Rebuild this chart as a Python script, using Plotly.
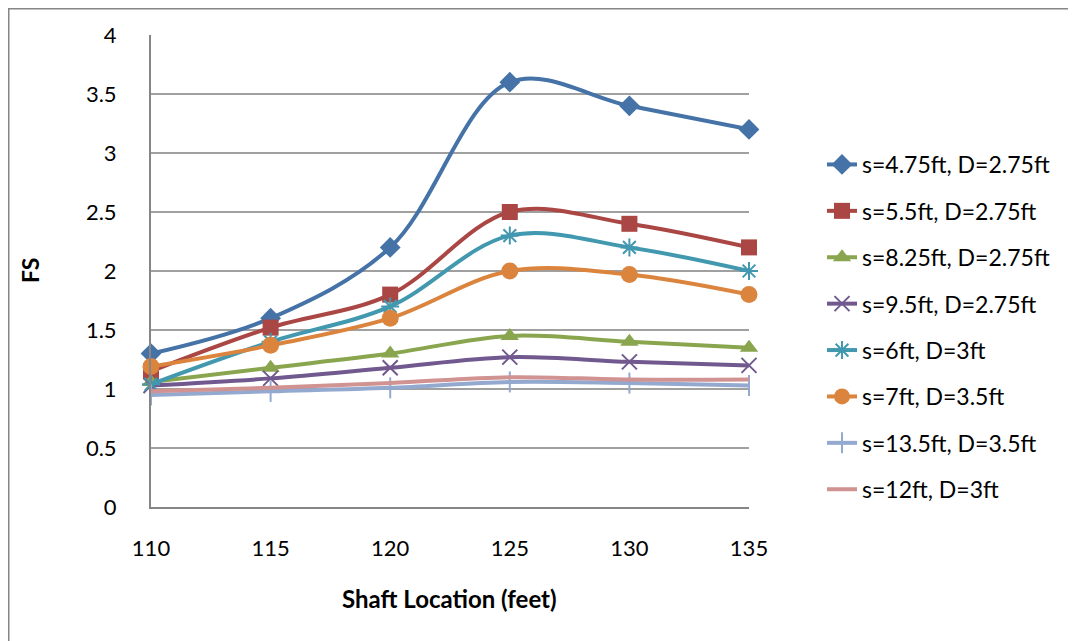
import plotly.graph_objects as go

shaft_location = [110, 115, 120, 125, 130, 135]

s475_d275 = [1.30, 1.60, 2.20, 3.60, 3.40, 3.20]
s55_d275 = [1.15, 1.52, 1.80, 2.50, 2.40, 2.20]
s825_d275 = [1.06, 1.18, 1.30, 1.45, 1.40, 1.35]
s95_d275 = [1.03, 1.09, 1.18, 1.27, 1.23, 1.20]
s6_d3 = [1.04, 1.40, 1.70, 2.30, 2.20, 2.00]
s7_d35 = [1.19, 1.37, 1.60, 2.00, 1.97, 1.80]
s135_d35 = [0.95, 0.98, 1.01, 1.06, 1.05, 1.03]
s12_d3 = [0.98, 1.01, 1.05, 1.10, 1.08, 1.08]

series_names = [
    "s=4.75ft, D=2.75ft", "s=5.5ft, D=2.75ft", "s=8.25ft, D=2.75ft",
    "s=9.5ft, D=2.75ft", "s=6ft, D=3ft", "s=7ft, D=3.5ft",
    "s=13.5ft, D=3.5ft", "s=12ft, D=3ft",
]
series_values = [s475_d275, s55_d275, s825_d275, s95_d275, s6_d3, s7_d35, s135_d35, s12_d3]
colors = ["#4572A7", "#AA4643", "#89A54E", "#71588F", "#4198AF", "#DB843D", "#93A9CF", "#D19392"]
symbols = ["diamond", "square", "triangle-up", "x-thin-open", "asterisk-open", "circle", "line-ns-open", None]
sizes = [16, 16, 16, 15, 15, 17, 15, 0]

FONT = "Lato"
# the page body has an 8px margin; work in target pixel coords and shift
OFF = 8
W, H = 1076 - OFF, 641 - OFF


def px(x):
    return x - OFF


fig = go.Figure()
for i, (name, vals) in enumerate(zip(series_names, series_values)):
    sym = symbols[i]
    marker = dict(color=colors[i], size=sizes[i])
    if sym is None:
        mode = "lines"
    else:
        mode = "lines+markers"
        marker["symbol"] = sym
        if sym.endswith("open"):
            marker["line"] = dict(color=colors[i], width=2)
    fig.add_trace(go.Scatter(
        x=shaft_location, y=vals, name=name, mode=mode,
        line=dict(color=colors[i], width=4, shape="spline", smoothing=1),
        marker=marker, cliponaxis=False, legendgroup=str(i),
    ))

# plot area geometry (target pixels)
PL, PR, PT, PB = 151, 749, 35, 507
L, R, T, B = px(PL), W - px(PR), px(PT), H - px(PB)
pw, ph = PR - PL, PB - PT


def xp(x):
    return (x - PL) / pw


def yp(y):
    return (PB - y) / ph


fig.update_layout(
    width=W, height=H,
    margin=dict(l=L, r=R, t=T, b=B, pad=0, autoexpand=False),
    paper_bgcolor="white", plot_bgcolor="white",
    font=dict(family=FONT, size=22, color="black"),
    showlegend=True,
    legend=dict(
        x=xp(822), y=yp(143), xanchor="left", yanchor="top",
        font=dict(family=FONT, size=23, color="black"),
        tracegroupgap=13.5, bgcolor="rgba(0,0,0,0)",
    ),
    xaxis=dict(
        range=[110, 135], tickvals=shaft_location, ticktext=[str(v) for v in shaft_location],
        showgrid=False, zeroline=False, showline=True, linecolor="#868686", linewidth=2,
        ticks="", ticklabelstandoff=21, tickfont=dict(family=FONT, size=22),
    ),
    yaxis=dict(
        range=[0, 4], dtick=0.5, showgrid=True, gridcolor="#A0A0A0", gridwidth=1.5,
        zeroline=False, showline=True, linecolor="#868686", linewidth=2,
        ticks="", ticklabelstandoff=28, tickfont=dict(family=FONT, size=22),
    ),
    annotations=[
        dict(text="<b>FS</b>", x=xp(30), y=yp(271), xref="paper", yref="paper",
             xanchor="center", yanchor="middle",
             showarrow=False, textangle=-90, font=dict(family=FONT, size=23)),
        dict(text="<b>Shaft Location (feet)</b>", x=xp(449), y=yp(598),
             xref="paper", yref="paper", xanchor="center", yanchor="middle",
             showarrow=False, font=dict(family=FONT, size=24)),
    ],
    shapes=[
        dict(type="rect", xref="paper", yref="paper",
             x0=xp(OFF + 0.5), x1=xp(1100), y0=yp(700), y1=yp(OFF + 0.5),
             line=dict(color="#868686", width=2), fillcolor="rgba(0,0,0,0)", layer="below"),
    ],
)

fig.write_html("out.html")
